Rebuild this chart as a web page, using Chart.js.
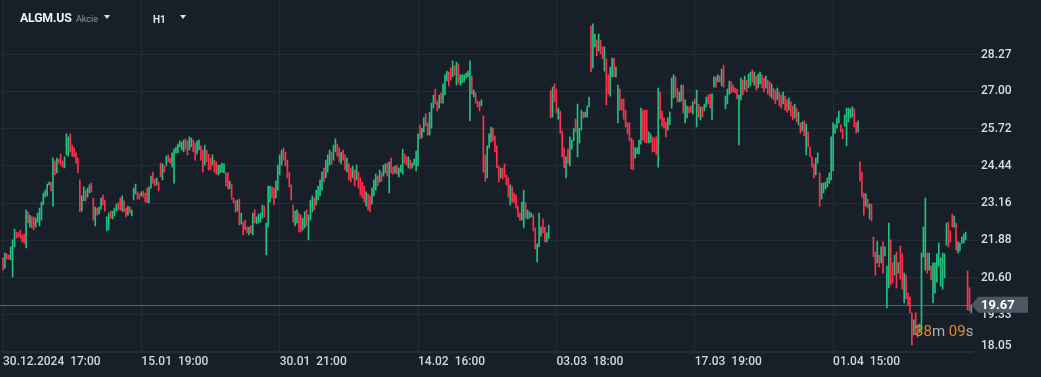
<!DOCTYPE html>
<html>
<head>
<meta charset="utf-8">
<script src="https://cdn.jsdelivr.net/npm/chart.js@4.4.1/dist/chart.umd.min.js"></script>
<style>
  html, body { margin: 0; padding: 0; background: #172028; }
  #wrap { position: relative; width: 1041px; height: 377px; overflow: hidden; font-family: Roboto, sans-serif; }
  canvas { position: absolute; left: 0; top: 0; }
  .hdr { position: absolute; white-space: nowrap; }
  .tri { position: absolute; width: 0; height: 0; border-left: 3.5px solid transparent; border-right: 3.5px solid transparent; border-top: 4px solid #dfe3e6; }
  #countdown { position: absolute; left: 915px; top: 322px; font-size: 15px; white-space: nowrap; color: #aab1b6; }
  #countdown b { font-weight: 400; color: #e8891c; }
</style>
</head>
<body>
<div id="wrap">
  <canvas id="chart" width="1041" height="377"></canvas>
  <div class="hdr" style="left:20px;top:11px;font-size:12.3px;font-weight:700;color:#eef1f3;letter-spacing:-0.2px;">ALGM.US</div>
  <div class="hdr" style="left:76px;top:14px;font-size:9px;color:#8e979e;">Akcie</div>
  <div class="tri" style="left:104px;top:15px;"></div>
  <div class="hdr" style="left:153px;top:14px;font-size:10px;font-weight:700;color:#e0e3e6;">H1</div>
  <div class="tri" style="left:180px;top:15px;"></div>
  <div id="countdown"><b>38</b>m <b>09</b>s</div>
</div>
<script>
/* ── ALGM.US H1 — high/low bars ─────────────────────────────── */

// [low, high] per hourly bar, split by the 72-bar spans between the date labels
const seg0 = [[20.86,21.28],[20.93,21.45],[21.24,21.42],[21.24,21.38],[21.21,21.66],[20.62,21.90],[21.66,22.27],[21.96,22.17],[22.00,22.14],[21.96,22.24],
  [21.83,22.07],[21.79,22.10],[21.62,22.93],[22.48,22.86],[22.34,22.75],[22.31,22.69],[22.24,22.69],[22.34,22.65],[22.51,22.82],[22.38,22.99],
  [22.58,23.20],[23.10,23.51],[23.37,23.61],[23.41,23.82],[23.79,23.89],[23.58,23.89],[23.06,24.71],[24.13,24.61],[24.20,24.71],[24.54,24.68],
  [24.47,24.85],[24.40,24.61],[24.37,24.75],[24.82,25.54],[24.78,25.44],[24.92,25.54],[24.78,25.16],[24.75,25.06],[24.54,24.89],[24.20,24.71],
  [22.86,23.96],[22.89,23.41],[23.24,23.72],[23.24,23.61],[23.37,23.68],[23.51,23.79],[23.55,23.85],[22.58,23.34],[22.38,23.03],[22.75,22.99],
  [22.79,23.03],[22.96,23.34],[23.10,23.44],[22.89,23.27],[22.21,22.69],[22.24,22.82],[22.65,22.89],[22.62,22.89],[22.72,22.99],[22.89,23.13],
  [22.93,23.17],[22.93,23.34],[22.89,23.41],[22.86,23.24],[22.69,22.99],[22.75,23.06],[22.82,23.03],[22.72,22.93],[23.27,23.68],[23.48,23.82],
  [23.30,23.55],[23.30,23.48]];
const seg1 = [[23.41,23.55],[23.37,23.58],[23.20,23.51],[23.17,23.68],[23.17,23.72],[23.68,24.09],[23.85,24.23],[23.75,23.99],[23.79,24.03],[23.58,23.89],
  [24.06,24.54],[23.96,24.51],[24.23,24.44],[24.44,24.78],[24.58,24.82],[24.54,24.71],[24.40,24.89],[23.85,25.02],[24.89,25.09],[24.89,25.19],
  [25.09,25.30],[24.99,25.26],[24.92,25.33],[25.02,25.37],[24.82,25.30],[24.99,25.44],[25.09,25.40],[24.92,25.33],[24.64,25.23],[24.85,25.30],
  [24.99,25.33],[24.64,25.13],[24.23,24.99],[24.47,25.16],[24.58,24.99],[24.30,24.85],[24.30,24.71],[24.47,24.82],[24.23,24.64],[24.16,24.58],
  [24.13,24.47],[24.20,24.47],[24.23,24.54],[24.20,24.51],[23.75,24.20],[23.65,24.20],[23.65,23.92],[23.30,23.82],[23.17,23.34],[22.86,23.24],
  [22.89,23.27],[22.41,23.30],[22.45,22.82],[22.07,22.51],[22.24,22.58],[22.14,22.34],[22.07,22.34],[22.14,22.38],[22.07,22.82],[22.48,22.93],
  [22.45,22.69],[22.48,22.79],[22.51,22.82],[22.65,23.10],[22.69,23.06],[21.38,22.48],[22.34,23.75],[23.20,23.75],[23.34,23.72],[23.10,23.68],
  [23.34,23.92],[23.61,24.47]];
const seg2 = [[24.13,24.82],[24.47,24.99],[24.64,25.06],[24.44,24.92],[24.03,24.64],[23.72,24.23],[23.27,23.79],[22.51,23.10],[22.38,22.89],[22.48,22.93],
  [22.17,22.82],[22.17,22.75],[22.24,22.65],[22.31,22.86],[22.38,22.93],[21.90,22.75],[22.58,23.27],[22.86,23.41],[22.93,23.34],[23.10,23.61],
  [23.27,23.75],[23.41,23.96],[23.61,24.23],[23.89,24.37],[24.03,24.64],[24.23,24.82],[24.47,24.99],[24.51,24.92],[24.64,25.16],[24.92,25.37],
  [24.78,25.19],[24.58,25.06],[24.51,24.92],[24.64,24.99],[24.30,24.82],[24.23,24.71],[23.96,24.51],[23.89,24.37],[24.03,24.44],[23.75,24.30],
  [23.96,24.47],[23.68,24.23],[23.44,24.03],[23.34,23.89],[23.20,23.75],[23.06,23.55],[22.93,23.48],[22.86,23.41],[23.13,23.68],[23.41,23.96],
  [23.61,24.16],[23.75,24.09],[23.89,24.30],[23.92,24.20],[24.09,24.47],[24.20,24.51],[24.09,24.54],[23.51,24.58],[24.20,24.71],[24.16,24.40],
  [24.20,24.44],[24.16,24.47],[24.06,24.37],[24.23,24.47],[24.16,25.02],[24.54,24.85],[24.47,24.75],[24.37,24.75],[24.34,24.64],[24.37,24.54],
  [24.47,24.68],[24.27,24.95]];
const seg3 = [[24.44,25.54],[25.37,25.85],[25.40,25.74],[25.61,26.09],[25.81,26.23],[25.50,25.92],[25.50,26.29],[25.74,26.60],[26.43,26.88],[26.57,27.08],
  [26.33,26.67],[26.43,26.88],[26.60,26.95],[26.60,27.26],[26.88,27.57],[27.36,27.70],[27.19,27.67],[27.39,27.81],[27.50,28.05],[27.57,27.88],
  [27.22,28.01],[27.29,27.94],[27.22,27.57],[27.29,27.57],[27.33,27.57],[27.46,27.63],[27.50,27.70],[25.99,28.05],[26.91,27.53],[26.81,27.05],
  [26.60,26.95],[26.47,26.67],[26.33,26.64],[26.50,26.71],[24.23,26.16],[23.92,24.82],[24.03,25.13],[25.06,25.54],[25.26,25.78],[25.30,25.74],
  [24.92,25.47],[24.37,25.13],[23.89,24.44],[24.03,24.37],[23.99,24.37],[24.06,24.51],[23.79,24.13],[23.37,24.03],[23.10,23.79],[23.20,23.72],
  [23.17,23.51],[22.99,23.44],[22.69,23.06],[22.58,22.82],[22.58,23.20],[22.31,23.61],[22.65,23.17],[22.62,22.93],[22.65,22.86],[22.69,22.82],
  [22.21,22.75],[21.59,22.31],[21.14,21.76],[21.66,22.82],[22.03,22.34],[22.14,22.62],[21.83,22.34],[21.83,22.14],[21.96,22.41],[26.09,27.02],
  [26.12,27.15],[26.64,27.26]];
const seg4 = [[26.26,27.08],[26.05,26.43],[25.57,26.33],[24.75,25.64],[24.37,25.06],[24.03,24.75],[24.54,25.02],[24.44,25.44],[25.02,25.33],[25.30,25.74],
  [25.61,26.05],[24.75,26.57],[25.23,25.74],[25.68,26.36],[26.09,26.29],[26.12,26.29],[26.12,26.50],[26.47,26.81],[27.67,29.25],[27.81,29.32],
  [28.53,28.97],[28.22,28.77],[28.39,28.97],[28.29,28.77],[28.12,28.53],[27.70,28.53],[26.54,28.12],[26.91,27.57],[26.84,27.84],[27.50,28.15],
  [27.50,28.15],[27.50,27.84],[25.92,27.22],[26.36,27.08],[26.36,26.74],[26.05,26.74],[25.78,26.36],[25.54,25.92],[25.30,25.92],[24.34,25.40],
  [24.30,25.33],[24.71,25.06],[24.85,25.06],[24.85,25.33],[25.19,26.43],[25.33,26.36],[25.26,26.36],[25.23,26.36],[25.23,25.61],[25.26,25.54],
  [24.92,25.44],[24.92,25.40],[24.82,25.44],[24.40,27.12],[26.05,26.98],[25.81,26.33],[25.74,26.09],[25.44,25.95],[25.68,26.09],[25.85,26.29],
  [26.43,27.46],[26.78,27.57],[26.81,27.50],[26.64,27.12],[26.64,26.98],[26.67,27.22],[26.26,27.22],[25.92,26.71],[26.09,26.50],[26.26,26.47],
  [26.29,26.50],[26.23,26.64]];
const seg5 = [[26.57,26.74],[25.78,27.05],[26.12,26.57],[26.02,26.47],[26.12,26.47],[26.33,26.57],[26.47,26.81],[26.57,26.88],[26.43,26.91],[26.02,26.91],
  [27.15,27.50],[27.15,27.50],[27.33,27.57],[27.33,27.53],[27.19,27.77],[27.15,27.91],[26.40,26.84],[26.57,27.08],[26.91,27.36],[26.95,27.33],
  [26.98,27.22],[26.95,27.12],[26.74,27.08],[25.16,26.88],[26.71,27.46],[26.88,27.39],[27.05,27.53],[26.98,27.39],[27.12,27.60],[27.19,27.67],
  [27.33,27.74],[27.22,27.67],[27.05,27.53],[27.12,27.60],[27.26,27.67],[27.12,27.57],[26.98,27.46],[27.12,27.53],[26.91,27.39],[26.84,27.33],
  [26.78,27.26],[26.71,27.12],[26.57,27.05],[26.71,27.12],[26.50,26.98],[26.43,26.88],[26.57,26.98],[26.36,26.84],[26.29,26.71],[26.36,26.78],
  [26.16,26.64],[26.02,26.50],[26.09,26.57],[25.95,26.43],[25.85,26.29],[25.57,25.92],[25.64,25.95],[25.47,25.99],[24.82,25.88],[25.09,25.61],
  [24.75,25.09],[24.40,24.75],[24.03,24.51],[24.13,24.71],[24.54,24.89],[23.06,24.20],[23.30,23.85],[23.51,23.85],[23.65,23.89],[23.72,24.03],
  [23.85,24.20],[23.96,25.44]];
const seg6 = [[24.27,25.92],[25.57,25.85],[25.74,26.09],[25.92,26.33],[25.61,25.85],[25.37,25.71],[25.81,26.19],[25.13,26.43],[25.95,26.43],[26.09,26.40],
  [26.12,26.47],[25.78,26.40],[25.57,25.92],[25.61,25.99],[23.92,24.58],[23.37,24.23],[22.75,23.51],[23.06,23.48],[22.99,23.30],[22.62,23.13],
  [22.55,23.13],[21.31,22.00],[20.69,21.48],[21.11,21.86],[20.97,21.38],[21.11,21.66],[20.76,21.83],[21.35,21.66],[19.56,21.00],[20.25,22.48],
  [20.35,21.90],[20.42,21.11],[20.69,21.38],[20.25,21.48],[20.76,21.11],[20.55,21.69],[20.21,21.42],[19.73,20.76],[19.87,20.69],[19.66,20.07],
  [19.39,19.94],[18.29,19.39],[18.63,19.15],[18.63,19.39],[18.56,18.98],[18.70,19.01],[18.80,21.45],[21.31,22.34],[20.86,23.34],[20.76,21.45],
  [20.86,21.45],[20.52,21.00],[19.73,21.11],[20.07,21.11],[20.45,21.42],[21.00,21.79],[20.31,21.28],[20.21,21.45],[20.59,21.42],[21.72,22.48],
  [21.66,22.51],[21.83,22.21],[22.34,22.79],[22.34,22.72],[21.55,22.48],[21.45,21.83],[21.52,21.79],[21.79,22.00],[21.79,22.10],[21.90,22.17],
  [19.49,20.83],[19.46,20.25],[19.39,19.66]];

// bar direction: u = close above open (green), d = close below open (red)
const dir0 = "dudduuuddd" + "ddududduuu" + "uuuuududud" + "dduuuddddd" + "duuduuddud" + "uudduuduuu" + "ddudduduuu" + "dd";
const dir1 = "uddduuddud" + "dududduuuu" + "uuudduuddu" + "uddudddudd" + "uuuudduddd" + "ududddudud" + "uuuuduuudd" + "uu";
const dir2 = "uudddddduu" + "dduuduuudu" + "uuuduuuduu" + "ddudduddud" + "uddddudduu" + "ududuududd" + "uduuuddudu" + "uu";
const dir3 = "uduudduuud" + "duduuuddud" + "uduuuuuudu" + "dddudduuud" + "ddduddddud" + "dddduuduuu" + "dduuudduud" + "ud";
const dir4 = "duddduduuu" + "duuuduuudu" + "ududdudduu" + "duuddddddd" + "duuuuddduu" + "dddudddduu" + "uudduuduud" + "du";
const dir5 = "dududuuddu" + "udududuuud" + "ddduududuu" + "duduuddudd" + "uddudduddu" + "ddudududud" + "ddduuduuuu" + "uu";
const dir6 = "uuuudduuuu" + "uddudddudu" + "dddududuuu" + "ddududdudd" + "ddudduuuud" + "uduuuuuuuu" + "ddduduuuuu" + "ddu";

// date labels and the bar each one sits on
const tickLabels = ["30.12.2024  17:00", "15.01  19:00", "30.01  21:00", "14.02  16:00", "03.03  18:00", "17.03  19:00", "01.04  15:00"];
const tickBars = [0, 72, 144, 216, 288, 360, 432];

// price axis
const yTicks = [18.05, 19.33, 20.60, 21.88, 23.16, 24.44, 25.72, 27.00, 28.27];
const Y_MIN = 18.047;
const Y_MAX = 30.143;
const lastPrice = 19.67;

// ── Colours ─────────────────────────────────────────────
const GRID = "#232d35";
const UP = "#22c17f";
const DOWN = "#ff2f4e";

const candles = [...seg0, ...seg1, ...seg2, ...seg3, ...seg4, ...seg5, ...seg6];
const dirs = (dir0 + dir1 + dir2 + dir3 + dir4 + dir5 + dir6).split("");
const labels = candles.map((c, i) => {
  const k = tickBars.indexOf(i);
  return k >= 0 ? tickLabels[k] : "";
});

// ── Price labels, last-price line and tag ───────────────
const overlay = {
  id: "overlay",
  beforeDatasetsDraw(chart) {
    const { ctx, scales: { y } } = chart;
    const py = Math.round(y.getPixelForValue(lastPrice)) + 0.5;
    ctx.save();
    ctx.strokeStyle = "#56626c";
    ctx.lineWidth = 1;
    ctx.beginPath();
    ctx.moveTo(0, py);
    ctx.lineTo(975, py);
    ctx.stroke();
    ctx.restore();
  },
  afterDraw(chart) {
    const { ctx, chartArea, scales: { y } } = chart;
    const lx = chartArea.right + 8.6;
    ctx.save();
    ctx.font = "500 12px Roboto";
    ctx.fillStyle = "#dadee1";
    ctx.textBaseline = "middle";
    yTicks.forEach((v) => {
      const py = Math.min(y.getPixelForValue(v), chartArea.bottom - 6);
      ctx.fillText(v.toFixed(2), lx, py);
    });

    const py = y.getPixelForValue(lastPrice);
    ctx.fillStyle = "#4a5863";
    ctx.beginPath();
    ctx.moveTo(chartArea.right - 1, py);
    ctx.lineTo(chartArea.right + 6, py - 8);
    ctx.lineTo(1028, py - 8);
    ctx.lineTo(1028, py + 8);
    ctx.lineTo(chartArea.right + 6, py + 8);
    ctx.closePath();
    ctx.fill();
    ctx.font = "700 13px Roboto";
    ctx.fillStyle = "#ffffff";
    ctx.fillText(lastPrice.toFixed(2), lx, py + 0.5);
    ctx.restore();
  },
};

new Chart(document.getElementById("chart").getContext("2d"), {
  type: "bar",
  data: {
    labels,
    datasets: [{
      data: candles,
      backgroundColor: dirs.map((d) => (d === "u" ? UP : DOWN)),
      barThickness: 1,
      borderWidth: 0,
    }],
  },
  options: {
    responsive: false,
    animation: false,
    layout: { padding: { left: 2, right: 0, top: 0, bottom: 0 } },
    plugins: { legend: { display: false }, tooltip: { enabled: false } },
    scales: {
      x: {
        offset: true,
        grid: { offset: false, color: GRID, drawTicks: false },
        border: { color: GRID },
        ticks: {
          autoSkip: false,
          maxRotation: 0,
          align: "start",
          padding: 3,
          color: "#d3d7da",
          font: { family: "Roboto", size: 12, weight: "500" },
        },
        afterBuildTicks: (ax) => { ax.ticks = ax.ticks.filter((t) => tickBars.includes(t.value)); },
        afterFit: (ax) => { ax.height = 25; },
      },
      y: {
        position: "right",
        min: Y_MIN,
        max: Y_MAX,
        grid: { color: GRID, tickLength: 6 },
        border: { display: false },
        ticks: { display: false },
        afterBuildTicks: (ax) => { ax.ticks = yTicks.map((v) => ({ value: v })); },
        afterFit: (ax) => { ax.width = 68.6; },
      },
    },
  },
  plugins: [overlay],
});
</script>
</body>
</html>
